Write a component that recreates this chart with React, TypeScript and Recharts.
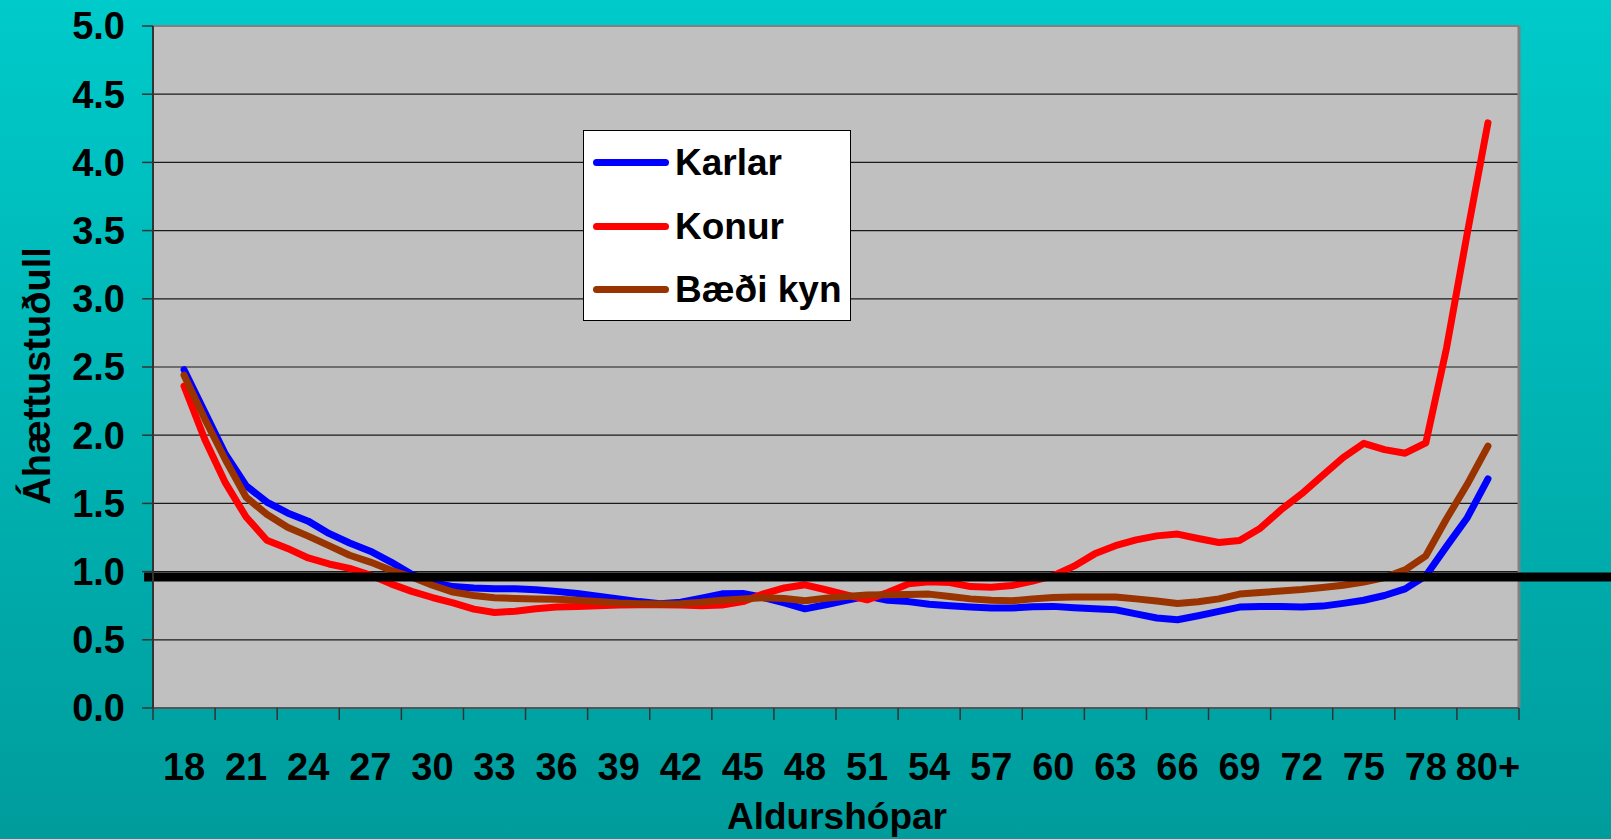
import { CartesianGrid, Legend, Line, LineChart, ReferenceLine, XAxis, YAxis } from "recharts";

// Age groups; 81 stands for the "80+" group
const AGES = [
  18, 19, 20, 21, 22, 23, 24, 25, 26, 27, 28, 29, 30, 31, 32, 33, 34, 35, 36, 37, 38, 39,
  40, 41, 42, 43, 44, 45, 46, 47, 48, 49, 50, 51, 52, 53, 54, 55, 56, 57, 58, 59, 60, 61,
  62, 63, 64, 65, 66, 67, 68, 69, 70, 71, 72, 73, 74, 75, 76, 77, 78, 79, 80, 81,
];

const KARLAR = [
  2.48, 2.17, 1.86, 1.63, 1.51, 1.43, 1.37, 1.28, 1.21, 1.15, 1.07, 0.98, 0.92, 0.89, 0.88, 0.875,
  0.875, 0.867, 0.855, 0.84, 0.82, 0.8, 0.78, 0.765, 0.775, 0.805, 0.837, 0.84, 0.81, 0.77, 0.727,
  0.757, 0.79, 0.82, 0.79, 0.78, 0.76, 0.75, 0.74, 0.733, 0.733, 0.742, 0.745, 0.735, 0.727, 0.72,
  0.69, 0.66, 0.647, 0.676, 0.708, 0.74, 0.745, 0.745, 0.74, 0.747, 0.767, 0.79, 0.825, 0.873, 0.97,
  1.185, 1.395, 1.68,
];

const KONUR = [
  2.36, 1.97, 1.65, 1.4, 1.23, 1.17, 1.1, 1.056, 1.024, 0.975, 0.91, 0.855, 0.81, 0.77, 0.725, 0.7,
  0.71, 0.727, 0.74, 0.745, 0.75, 0.755, 0.757, 0.757, 0.755, 0.75, 0.755, 0.78, 0.837, 0.88, 0.903,
  0.867, 0.83, 0.793, 0.847, 0.91, 0.925, 0.92, 0.89, 0.886, 0.898, 0.93, 0.97, 1.04, 1.13, 1.19,
  1.233, 1.262, 1.275, 1.243, 1.213, 1.228, 1.318, 1.453, 1.57, 1.704, 1.835, 1.94, 1.894, 1.868,
  1.944, 2.64, 3.48, 4.29,
];

const BAEDI_KYN = [
  2.44, 2.12, 1.82, 1.545, 1.42, 1.325, 1.26, 1.19, 1.12, 1.07, 1.01, 0.96, 0.9, 0.85, 0.825, 0.808,
  0.803, 0.8, 0.798, 0.79, 0.78, 0.77, 0.765, 0.763, 0.765, 0.775, 0.79, 0.8, 0.808, 0.803, 0.786,
  0.805, 0.818, 0.828, 0.83, 0.833, 0.835, 0.818, 0.8, 0.79, 0.786, 0.8, 0.81, 0.813, 0.813, 0.813,
  0.8, 0.784, 0.766, 0.779, 0.8, 0.835, 0.847, 0.857, 0.868, 0.884, 0.9, 0.924, 0.957, 1.013, 1.116,
  1.387, 1.64, 1.92,
];

const Y_TICKS = [0, 0.5, 1, 1.5, 2, 2.5, 3, 3.5, 4, 4.5, 5];
const X_TICKS = [18, 21, 24, 27, 30, 33, 36, 39, 42, 45, 48, 51, 54, 57, 60, 63, 66, 69, 72, 75, 78, 81];
const X_TICK_LABELS = [
  "18", "21", "24", "27", "30", "33", "36", "39", "42", "45", "48", "51", "54", "57", "60", "63",
  "66", "69", "72", "75", "78", "80+",
];
const REFERENCE_VALUE = 0.96;

const SERIES = [
  { key: "karlar", name: "Karlar", color: "#0000FF", values: KARLAR },
  { key: "konur", name: "Konur", color: "#FF0000", values: KONUR },
  { key: "baedi", name: "Bæði kyn", color: "#993300", values: BAEDI_KYN },
];

const data = AGES.map((age, i) => {
  const row: Record<string, number> = { age };
  SERIES.forEach((s) => (row[s.key] = s.values[i]));
  return row;
});

const W = 1611;
const H = 839;
const PLOT_LEFT = 153;
const PLOT_RIGHT = 1519;
const PLOT_TOP = 26;
const PLOT_BOTTOM = 708;
const X_MIN = 16.5;
const X_MAX = 82.5;
const HALF_GROUP = ((PLOT_RIGHT - PLOT_LEFT) / (X_MAX - X_MIN)) * 1.5;
const FONT = '"Liberation Sans", Arial, sans-serif';

function AgeTick(props: any) {
  const { x, payload } = props;
  const idx = X_TICKS.indexOf(payload.value);
  return (
    <g>
      {idx === 0 && (
        <line x1={x - HALF_GROUP} x2={x - HALF_GROUP} y1={PLOT_BOTTOM} y2={PLOT_BOTTOM + 12} stroke="#333" strokeWidth={1.5} />
      )}
      <line x1={x + HALF_GROUP} x2={x + HALF_GROUP} y1={PLOT_BOTTOM} y2={PLOT_BOTTOM + 12} stroke="#333" strokeWidth={1.5} />
      <text x={x} y={PLOT_BOTTOM + 72} textAnchor="middle" fontFamily={FONT} fontWeight="bold" fontSize={38} fill="#000">
        {X_TICK_LABELS[idx]}
      </text>
    </g>
  );
}

function LegendBox() {
  return (
    <div
      style={{
        width: 268,
        height: 191,
        boxSizing: "border-box",
        background: "#fff",
        border: "1.5px solid #000",
      }}
    >
      {SERIES.map((s) => (
        <div key={s.key} style={{ display: "flex", alignItems: "center", height: 63.5 }}>
          <span
            style={{
              display: "inline-block",
              width: 76,
              height: 7,
              borderRadius: 4,
              background: s.color,
              marginLeft: 9,
              marginRight: 6,
            }}
          />
          <span style={{ fontFamily: FONT, fontWeight: "bold", fontSize: 37, color: "#000", lineHeight: 1, whiteSpace: "nowrap" }}>
            {s.name}
          </span>
        </div>
      ))}
    </div>
  );
}

export default function App() {
  return (
    <div
      style={{
        position: "fixed",
        left: 0,
        top: 0,
        width: W,
        height: H,
        overflow: "hidden",
        background: "linear-gradient(to bottom, #00CACA, #009C9C)",
      }}
    >
      <LineChart
        width={W}
        height={H}
        data={data}
        margin={{ top: PLOT_TOP, right: W - PLOT_RIGHT, left: 0, bottom: 0 }}
      >
        <CartesianGrid vertical={false} stroke="#1a1a1a" strokeWidth={1.2} fill="#C0C0C0" fillOpacity={1} />
        <XAxis
          dataKey="age"
          type="number"
          domain={[X_MIN, X_MAX]}
          ticks={X_TICKS}
          interval={0}
          height={H - PLOT_BOTTOM}
          tick={<AgeTick />}
          tickLine={false}
          tickSize={12}
          tickMargin={0}
          axisLine={{ stroke: "#555", strokeWidth: 2 }}
        />
        <YAxis
          domain={[0, 5]}
          ticks={Y_TICKS}
          interval={0}
          width={PLOT_LEFT}
          tickFormatter={(v: number) => v.toFixed(1)}
          tick={{ fontFamily: FONT, fontWeight: "bold", fontSize: 38, fill: "#000" }}
          tickSize={11}
          tickMargin={17}
          tickLine={{ stroke: "#333", strokeWidth: 1.5 }}
          axisLine={{ stroke: "#333", strokeWidth: 2 }}
        />
        <ReferenceLine y={5} stroke="#808080" strokeWidth={2} />
        <ReferenceLine x={X_MAX} stroke="#808080" strokeWidth={3} />
        <Legend
          layout="vertical"
          verticalAlign="middle"
          align="center"
          content={<LegendBox />}
          wrapperStyle={{ position: "absolute", left: 583, top: 130, width: 268, height: 191 }}
        />
        {SERIES.map((s) => (
          <Line
            key={s.key}
            dataKey={s.key}
            name={s.name}
            type="linear"
            stroke={s.color}
            strokeWidth={7}
            strokeLinecap="round"
            strokeLinejoin="round"
            dot={false}
            activeDot={false}
            isAnimationActive={false}
          />
        ))}
        <ReferenceLine
          segment={[
            { x: 16.07, y: REFERENCE_VALUE },
            { x: 87.5, y: REFERENCE_VALUE },
          ]}
          stroke="#000"
          strokeWidth={9}
          ifOverflow="visible"
        />
      </LineChart>
      <div
        style={{
          position: "absolute",
          left: 36.5,
          top: 376,
          transform: "translate(-50%, -50%) rotate(-90deg)",
          fontFamily: FONT,
          fontWeight: "bold",
          fontSize: 38,
          whiteSpace: "nowrap",
          color: "#000",
        }}
      >
        Áhættustuðull
      </div>
      <div
        style={{
          position: "absolute",
          left: 837,
          top: 798,
          transform: "translateX(-50%)",
          fontFamily: FONT,
          fontWeight: "bold",
          fontSize: 37,
          lineHeight: "37px",
          whiteSpace: "nowrap",
          color: "#000",
        }}
      >
        Aldurshópar
      </div>
    </div>
  );
}
